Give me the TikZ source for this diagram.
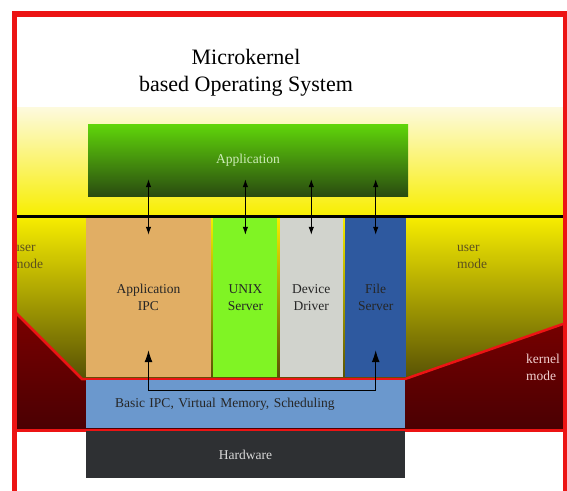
\documentclass[tikz,border=0pt]{standalone}
\usepackage{fontspec}
\setmainfont{Liberation Serif}
\usetikzlibrary{arrows.meta, positioning}
\definecolor{frame_red}{RGB}{236,20,20}
\definecolor{cream}{RGB}{253,250,222}
\definecolor{bright_yellow}{RGB}{248,238,0}
\definecolor{dark_olive}{RGB}{86,80,4}
\definecolor{kernel_top}{RGB}{122,0,0}
\definecolor{kernel_bottom}{RGB}{74,0,2}
\definecolor{app_top}{RGB}{96,214,10}
\definecolor{app_bottom}{RGB}{42,76,16}
\definecolor{ipc_tan}{RGB}{225,174,100}
\definecolor{unix_green}{RGB}{128,244,36}
\definecolor{driver_gray}{RGB}{209,211,205}
\definecolor{file_blue}{RGB}{46,89,159}
\definecolor{basic_blue}{RGB}{107,152,205}
\definecolor{hardware_gray}{RGB}{46,48,51}
\definecolor{label_olive}{RGB}{92,80,30}

\begin{document}
\begin{tikzpicture}[
    x=1pt, y=-1pt, >={Latex[length=8pt, width=5.5pt]},
    every node/.style={align=center, inner sep=0pt, font=\fontsize{13.5}{17}\selectfont},
    column/.style={rectangle, minimum height=159, text=black!85},
    layer/.style={rectangle, minimum width=319, text=black!85}
]
\useasboundingbox (0,0) rectangle (567,490);
\fill[white] (0,0) rectangle (567,490);
\shade[top color=cream, bottom color=bright_yellow] (16,107) rectangle (563,216);
\shade[top color=bright_yellow, bottom color=dark_olive] (16,216) rectangle (563,380);
\shade[top color=kernel_top, bottom color=kernel_bottom] (16,313) -- (82,379) -- (405,379) -- (563,324) -- (563,430) -- (16,430) -- cycle;
\draw[frame_red, line width=2.5] (16,313) -- (82,379) -- (405,379) -- (563,324);
\draw[frame_red, line width=3] (16,430) -- (563,430);
\draw[black, line width=3] (16,216) -- (567,216);
\node (title) at (246,73) [font=\fontsize{22}{27}\selectfont] {Microkernel\\based Operating System};
\node (application) at (248,160) [rectangle, minimum width=320, minimum height=72, top color=app_top, bottom color=app_bottom, text={rgb,255:red,206;green,236;blue,186}] {Application};
\node (application_ipc) at (148.5,297.5) [column, minimum width=125, fill=ipc_tan] {Application\\IPC};
\node (unix_server) [column, minimum width=64, fill=unix_green, right=2 of application_ipc] {UNIX\\Server};
\node (device_driver) [column, minimum width=63, fill=driver_gray, right=2 of unix_server] {Device\\Driver};
\node (file_server) [column, minimum width=61, fill=file_blue, right=2 of device_driver] {File\\Server};
\node (basic_ipc) at (245.5,404) [layer, minimum height=48, fill=basic_blue, text width=261, inner xsep=29, align=left] {Basic IPC, Virtual Memory, Scheduling};
\node (hardware) at (245.5,454.5) [layer, minimum height=47, fill=hardware_gray, text=black!15] {Hardware};
\node (user_mode_left) at (13,257) [anchor=west, align=left, text=label_olive] {user\\mode};
\node (user_mode_right) at (457,257) [anchor=west, align=left, text=label_olive] {user\\mode};
\node (kernel_mode) at (526,367) [anchor=west, align=left, text={rgb,255:red,240;green,206;blue,206}] {kernel\\mode};
\draw[<->, line width=1, shorten <=-17pt, shorten >=-17pt] (application.south -| application_ipc) -- (application_ipc.north);
\draw[<->, line width=1, shorten <=-17pt, shorten >=-17pt] (application.south -| unix_server) -- (unix_server.north);
\draw[<->, line width=1, shorten <=-17pt, shorten >=-17pt] (application.south -| device_driver) -- (device_driver.north);
\draw[<->, line width=1, shorten <=-17pt, shorten >=-17pt] (application.south -| file_server) -- (file_server.north);
\draw[{Latex[length=12pt, width=8pt]}-{Latex[length=12pt, width=8pt]}, line width=1] ([yshift=27pt]application_ipc.south) -- ++(0,40) -| ([yshift=27pt]file_server.south);
\draw[frame_red, line width=5.5] (14.5,495) -- (14.5,14) -- (565.5,14) -- (565.5,495);
\end{tikzpicture}
\end{document}
